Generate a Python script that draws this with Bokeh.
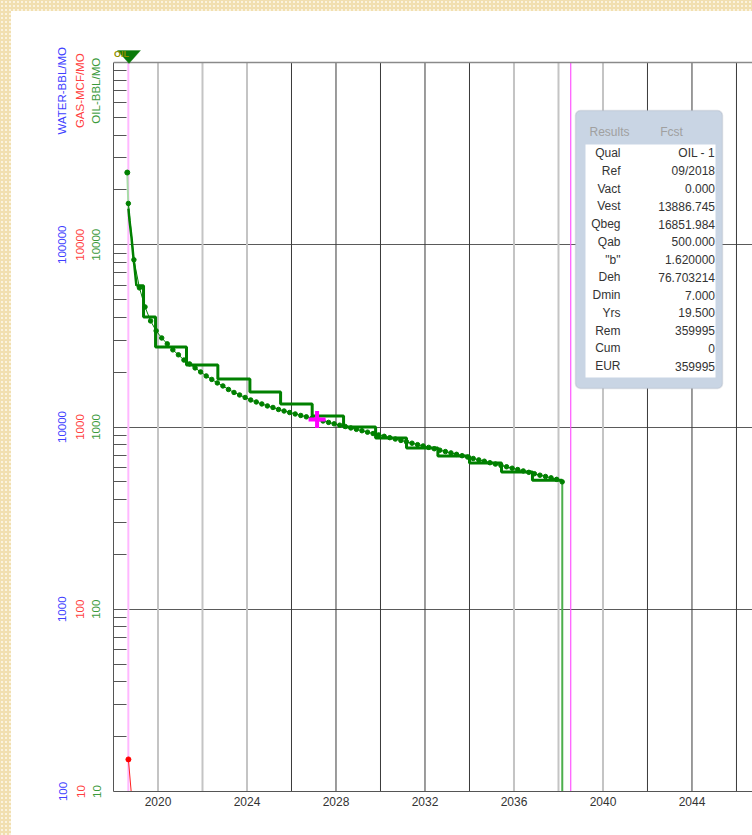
import math
from bokeh.plotting import figure
from bokeh.layouts import column
from bokeh.models import (Range1d, LogScale, LogAxis, FixedTicker, Grid,
                          NumeralTickFormatter, Span, Label, BoxAnnotation, PolyAnnotation)
from bokeh.embed import file_html
from bokeh.resources import INLINE

# ---------------- data ----------------
# hyperbolic oil forecast, quarterly points from 09/2018 (BBL/MO)
fcst_start = 2018.667
fcst_step = 0.25
fcst_oil = [16852, 8270, 5800, 4560, 3820, 3370, 3080, 2860, 2650, 2490,
            2330, 2220, 2110, 2005, 1906, 1824, 1745, 1680, 1607, 1547,
            1499, 1452, 1407, 1372, 1338, 1305, 1280, 1248, 1224, 1201,
            1179, 1157, 1137, 1117, 1098, 1079, 1060, 1041, 1023, 1006,
            988, 971, 954, 937, 921, 905, 889, 874, 859, 844,
            829, 815, 800, 787, 773, 760, 746, 733, 721, 708,
            696, 684, 672, 660, 649, 637, 626, 615, 605, 594,
            584, 574, 564, 554, 544, 535, 526, 516, 500]
fcst_dates = [fcst_start + fcst_step * i for i in range(len(fcst_oil))]

# first measured oil rate
first_date = [2018.62]
first_oil = [24900]

# early monthly volumes
early_dates = [2018.67, 2018.72, 2018.81, 2018.90, 2018.94, 2019.03]
early_oil = [15770, 13550, 10930, 8380, 7665, 5950]

# stepped volumes
step_starts = [2019.03, 2019.35, 2019.89, 2021.28, 2022.69, 2024.13, 2025.51, 2026.93,
               2028.34, 2029.78, 2031.17, 2032.58, 2034.00, 2035.44, 2036.83]
step_levels = [5950, 4020, 2750, 2190, 1835, 1557, 1338, 1149,
               1000, 870, 766, 693, 634, 566, 511]
step_end = 2038.17

# gas (MCF/MO)
gas_dates = [2018.67, 2018.95]
gas_vals = [15, 6]

# cursor marker
cursor_date = [2027.15]
cursor_oil = [1100]

ref_date = 2018.667
cursor_line_date = 2038.55

year_ticks = [2020, 2024, 2028, 2032, 2036, 2040, 2044]
grid_years_light = [2020, 2022, 2024, 2036, 2038, 2040]
grid_years_dark = [2026, 2028, 2030, 2032, 2034, 2042, 2044, 2046]
oil_ticks = [10, 100, 1000, 10000]
water_ticks = [100, 1000, 10000, 100000]
y_low, y_high = 10, 100000

result_keys = ["Qual", "Ref", "Vact", "Vest", "Qbeg", "Qab", "\"b\"", "Deh",
               "Dmin", "Yrs", "Rem", "Cum", "EUR"]
result_vals = ["OIL - 1", "09/2018", "0.000", "13886.745", "16851.984", "500.000",
               "1.620000", "76.703214", "7.000", "19.500", "359995", "0", "359995"]

# ---------------- styling ----------------
FONT = "Liberation Sans"
GREEN = "#008000"
OIL_C = "#3c9a3c"
GAS_C = "#ff4040"
WAT_C = "#4040ff"

# frame reaches a little above the top decade so the well marker sits inside it
Y_TOP = 132050
TITLE_AT = 70000

p = figure(width=741, height=824,
           x_range=Range1d(2018.0, 2046.72), y_range=Range1d(y_low, Y_TOP),
           y_axis_type="log", output_backend="svg", toolbar_location=None,
           min_border_left=102, min_border_right=0, min_border_top=29, min_border_bottom=44,
           background_fill_color="white", border_fill_color="white", outline_line_color=None)
p.margin = (11, 0, 0, 11)
p.styles = {"background-color": "white"}
p.xgrid.visible = False
p.ygrid.visible = False

p.extra_y_ranges = {"water": Range1d(y_low * 10, Y_TOP * 10)}
p.extra_y_scales = {"water": LogScale()}

minor = [m * 10 ** d for d in range(1, 5) for m in range(2, 10)]

oil_ax = p.yaxis[0]
oil_ax.ticker = FixedTicker(ticks=oil_ticks + [TITLE_AT], minor_ticks=minor)
oil_ax.formatter = NumeralTickFormatter(format="0")
oil_ax.major_label_overrides = {TITLE_AT: "OIL-BBL/MO"}
oil_ax.bounds = (y_low, y_high)
oil_ax.major_tick_in = 0
oil_ax.major_tick_out = 0
oil_ax.minor_tick_in = 13
oil_ax.minor_tick_out = 0
oil_ax.minor_tick_line_color = "#555555"
oil_ax.axis_line_color = "#555555"
oil_ax.major_label_standoff = 11

gas_ax = LogAxis(ticker=FixedTicker(ticks=oil_ticks + [TITLE_AT]),
                 formatter=NumeralTickFormatter(format="0"),
                 major_label_overrides={TITLE_AT: "GAS-MCF/MO"})
water_ax = LogAxis(y_range_name="water", ticker=FixedTicker(ticks=water_ticks + [TITLE_AT * 10]),
                   formatter=NumeralTickFormatter(format="0"),
                   major_label_overrides={TITLE_AT * 10: "WATER-BBL/MO"})
gas_ax.major_label_standoff = 1
water_ax.major_label_standoff = 3
for ax in (gas_ax, water_ax):
    ax.axis_line_color = None
    ax.major_tick_line_color = None
    ax.minor_tick_line_color = None
    ax.major_tick_in = 0
    ax.major_tick_out = 0
    p.add_layout(ax, "left")

for ax, col in ((oil_ax, OIL_C), (gas_ax, GAS_C), (water_ax, WAT_C)):
    ax.major_label_orientation = "vertical"
    ax.major_label_text_color = col
    ax.major_label_text_font = FONT
    ax.major_label_text_font_size = "11.5px"

xax = p.xaxis[0]
xax.ticker = FixedTicker(ticks=year_ticks)
xax.major_tick_out = 0
xax.major_tick_in = 0
xax.minor_tick_line_color = None
xax.axis_line_color = "#555555"
xax.major_label_text_font = FONT
xax.major_label_text_font_size = "12px"
xax.major_label_text_color = "#333333"
xax.major_label_standoff = 5

# grid: decade lines across, two-year lines down to the top decade
p.add_layout(Grid(dimension=1, ticker=FixedTicker(ticks=[100, 1000, 10000]),
                  grid_line_color="#5a5a5a", grid_line_width=1))
n_l, n_d = len(grid_years_light), len(grid_years_dark)
p.segment(grid_years_light, [y_low] * n_l, grid_years_light, [y_high] * n_l,
          line_color="#c4c4c4", line_width=2)
p.segment(grid_years_dark, [y_low] * n_d, grid_years_dark, [y_high] * n_d,
          line_color="#3a3a3a", line_width=1)
p.add_layout(Span(location=y_high, dimension="width", line_color="#8a8a8a", line_width=1.5))

p.segment([ref_date], [y_low], [ref_date], [y_high], line_color="#ffb8ff", line_width=2)
p.segment([cursor_line_date], [y_low], [cursor_line_date], [y_high],
          line_color="#ff55ff", line_width=1.2)

# ---------------- series ----------------
p.line([first_date[0], early_dates[0]], [first_oil[0], early_oil[0]], line_color="#a8dca8", line_width=2)
p.scatter(first_date, first_oil, size=5, color=GREEN)

p.line(early_dates, early_oil, line_color=GREEN, line_width=2.5)
p.step(step_starts + [step_end], step_levels + [step_levels[-1]], mode="after",
       line_color=GREEN, line_width=3)
p.line([step_end, step_end], [step_levels[-1], 1], line_color="#4caf4c", line_width=2)

p.line(fcst_dates, fcst_oil, line_color=GREEN, line_width=1)
p.scatter(fcst_dates, fcst_oil, size=4.5, color=GREEN)

p.line(gas_dates, gas_vals, line_color="#ff2020", line_width=1)
p.scatter(gas_dates[:1], gas_vals[:1], size=5, color="#ff0000")

p.scatter(cursor_date, cursor_oil, marker="cross", size=17, line_width=4, line_color="#ff00ff")

# ---------------- annotations (frame-relative pixels) ----------------
def sx(px):
    return px - 113

def sy(py):
    return 791 - py

p.add_layout(PolyAnnotation(xs=[sx(117), sx(140), sx(128.5)], ys=[sy(50), sy(50), sy(63)],
                            xs_units="screen", ys_units="screen",
                            fill_color="#0a7a0a", fill_alpha=1, line_color="#0a7a0a"))
p.add_layout(Label(x=sx(113.5), y=sy(53.5), x_units="screen", y_units="screen", text="OIL",
                   text_color="#8f8f00", text_font=FONT, text_font_size="9px",
                   text_font_style="bold", text_baseline="alphabetic"))

p.add_layout(BoxAnnotation(left=sx(575), right=sx(722), top=sy(110), bottom=sy(388),
                           left_units="screen", right_units="screen",
                           top_units="screen", bottom_units="screen",
                           fill_color="#c9d5e4", fill_alpha=1, line_color="#a5adb8",
                           line_width=1.5, border_radius=5))
p.add_layout(BoxAnnotation(left=sx(585), right=sx(715), top=sy(144), bottom=sy(377),
                           left_units="screen", right_units="screen",
                           top_units="screen", bottom_units="screen",
                           fill_color="white", fill_alpha=1, line_color=None))
p.add_layout(Label(x=sx(609), y=sy(131), x_units="screen", y_units="screen", text="Results",
                   text_align="center", text_baseline="middle", text_color="#a0a0a0",
                   text_font=FONT, text_font_size="12px"))
p.add_layout(Label(x=sx(671), y=sy(131), x_units="screen", y_units="screen", text="Fcst",
                   text_align="center", text_baseline="middle", text_color="#a0a0a0",
                   text_font=FONT, text_font_size="12px"))
for i, (k, v) in enumerate(zip(result_keys, result_vals)):
    ypix = 152.7 + 17.75 * i
    p.add_layout(Label(x=sx(620), y=sy(ypix), x_units="screen", y_units="screen", text=k,
                       text_align="right", text_baseline="middle", text_color="#333333",
                       text_font=FONT, text_font_size="12px"))
    p.add_layout(Label(x=sx(714.5), y=sy(ypix), x_units="screen", y_units="screen", text=v,
                       text_align="right", text_baseline="middle", text_color="#333333",
                       text_font=FONT, text_font_size="12px"))

page = column(p, styles={"background-color": "#f1dfb0",
                         "background-image": "radial-gradient(circle, #fbf3de 1px, transparent 1.4px)",
                         "background-size": "4px 4px"})

open("out.html", "w").write(file_html(page, INLINE))
